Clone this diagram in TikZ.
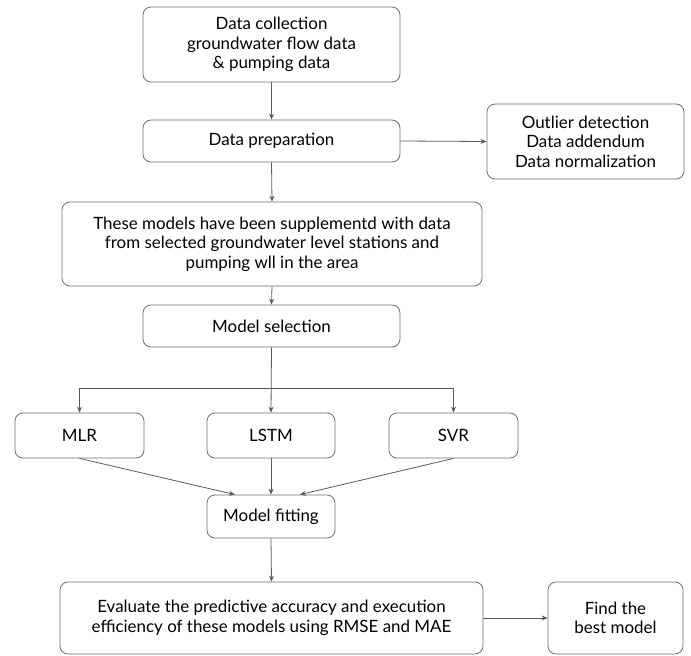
\documentclass[tikz,border=0pt]{standalone}
\usepackage{fontspec}
\setmainfont{Lato}
\usetikzlibrary{arrows.meta,calc}
\definecolor{boxgray}{HTML}{6E6E6E}
\definecolor{linegray}{HTML}{5A5A5A}
\begin{document}
\begin{tikzpicture}[x=1bp,y=-1bp,
  box/.style={draw=boxgray, rounded corners=8bp, line width=0.8bp, align=center,
    font=\fontsize{17}{19.5}\selectfont, inner sep=0pt, text=black},
  arr/.style={draw=linegray, line width=0.8bp, -{Stealth[length=6bp,width=5bp]}},
  ln/.style={draw=linegray, line width=0.8bp}]
\useasboundingbox (0,0) rectangle (691,656);
\node[box, minimum width=257bp, minimum height=75bp] (dc) at (271.5,44.5) {Data collection\\groundwater flow data\\\& pumping data};
\node[box, minimum width=257bp, minimum height=42bp] (prep) at (271.5,141) {Data preparation};
\node[box, minimum width=197bp, minimum height=75bp] (out) at (585.5,141.5) {Outlier detection\\Data addendum\\Data normalization};
\node[box, minimum width=420bp, minimum height=84bp] (sup) at (272,244) {These models have been supplementd with data\\from selected groundwater level stations and\\pumping wll in the area};
\node[box, minimum width=257bp, minimum height=42bp] (sel) at (271.5,326) {Model selection};
\node[box, minimum width=129bp, minimum height=45bp] (mlr) at (79.5,435.5) {MLR};
\node[box, minimum width=128bp, minimum height=45bp] (lstm) at (271,435.5) {LSTM};
\node[box, minimum width=129bp, minimum height=45bp] (svr) at (453.5,435.5) {SVR};
\node[box, minimum width=128bp, minimum height=43bp] (fit) at (271,516.5) {Model fitting};
\node[box, minimum width=423bp, minimum height=72bp] (ev) at (271.5,618) {Evaluate the predictive accuracy and execution\\efficiency of these models using RMSE and MAE};
\node[box, minimum width=135bp, minimum height=72bp] (best) at (615.5,618) {Find the\\best model};
\coordinate (br) at (271,388);
\draw[arr] (dc.south) -- (prep.north);
\draw[arr] (prep.east) -- (out.west);
\draw[arr] (prep.south) -- (sup.north);
\draw[arr] (sup.south) -- (sel.north);
\draw[arr] (sel.south) -- (lstm.north);
\draw[arr] (br) -| (mlr.north);
\draw[arr] (br) -| (svr.north);
\draw[arr] (mlr.south) -- ($(fit.north)+(-36,0)$);
\draw[arr] (lstm.south) -- (fit.north);
\draw[arr] (svr.south) -- ($(fit.north)+(29,0)$);
\draw[arr] (fit.south) -- (ev.north);
\draw[arr] (ev.east) -- (best.west);
\end{tikzpicture}
\end{document}
